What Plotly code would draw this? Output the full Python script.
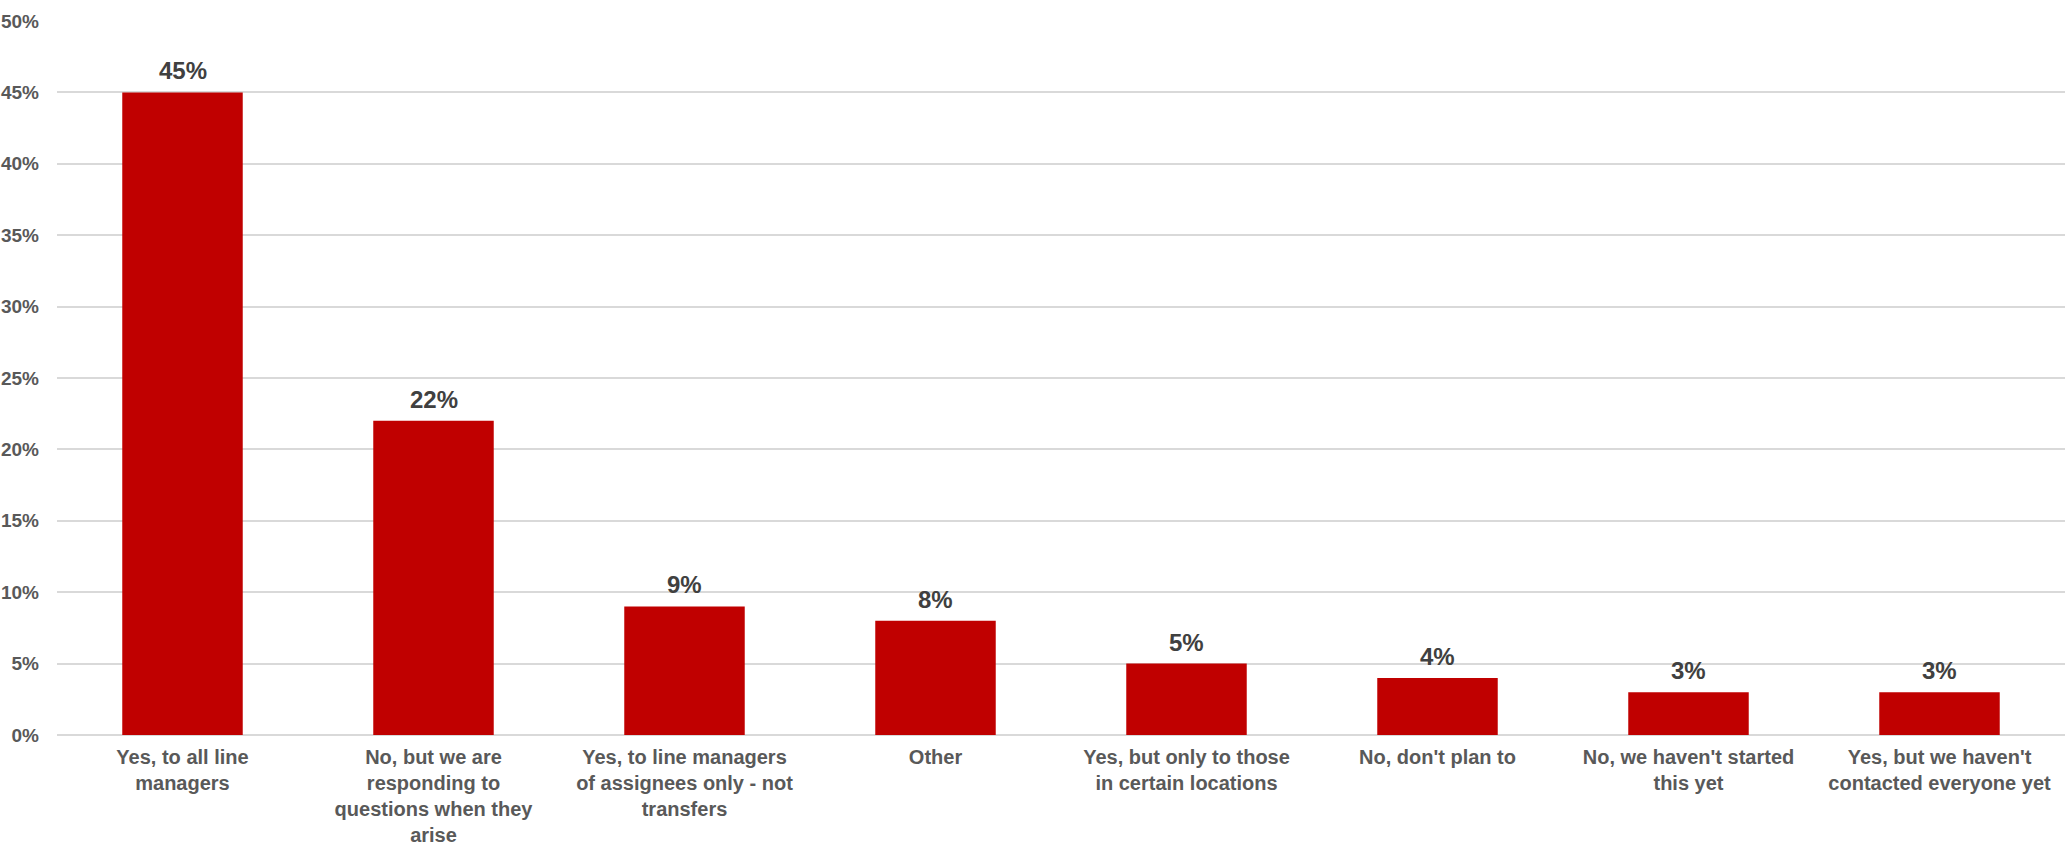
import plotly.graph_objects as go

categories = [
    "Yes, to all line<br>managers",
    "No, but we are<br>responding to<br>questions when they<br>arise",
    "Yes, to line managers<br>of assignees only - not<br>transfers",
    "Other",
    "Yes, but only to those<br>in certain locations",
    "No, don't plan to",
    "No, we haven't started<br>this yet",
    "Yes, but we haven't<br>contacted everyone yet",
]
values = [45, 22, 9, 8, 5, 4, 3, 3]
y_ticks = [0, 5, 10, 15, 20, 25, 30, 35, 40, 45, 50]

FONT = "Liberation Sans, Arial, sans-serif"

fig = go.Figure(
    go.Bar(
        x=categories,
        y=values,
        marker=dict(color="#C00000", line=dict(width=0)),
        width=0.48,
        hoverinfo="x+y",
    )
)

for c, v in zip(categories, values):
    fig.add_annotation(
        x=c, y=v, text=f"{v}%", showarrow=False,
        xref="x", yref="y", yanchor="bottom", yshift=6,
        font=dict(family=FONT, size=24, color="#404040", weight="bold"),
    )

fig.update_layout(
    width=2070,
    height=849,
    margin=dict(l=57, r=5, t=21, b=114),
    paper_bgcolor="white",
    plot_bgcolor="white",
    showlegend=False,
    font=dict(family=FONT, color="#595959"),
)
fig.update_xaxes(
    tickfont=dict(size=20, color="#595959", family=FONT, weight="bold"),
    showgrid=False,
    showline=False,
    ticks="",
    automargin=False,
    tickangle=0,
    ticklabelstandoff=8,
)
fig.update_yaxes(
    range=[0, 50],
    tickvals=y_ticks,
    ticktext=[f"{t}%" for t in y_ticks],
    tickfont=dict(size=19, color="#595959", family=FONT, weight="bold"),
    showgrid=True,
    gridcolor="#D9D9D9",
    gridwidth=1.5,
    zeroline=True,
    zerolinecolor="#D9D9D9",
    zerolinewidth=1.5,
    ticks="",
    ticklabelstandoff=17,
    automargin=False,
)

fig.write_html(
    "out.html",
    config={"displayModeBar": False},
    post_script="document.body.style.margin='0';document.body.style.overflow='hidden';",
)
